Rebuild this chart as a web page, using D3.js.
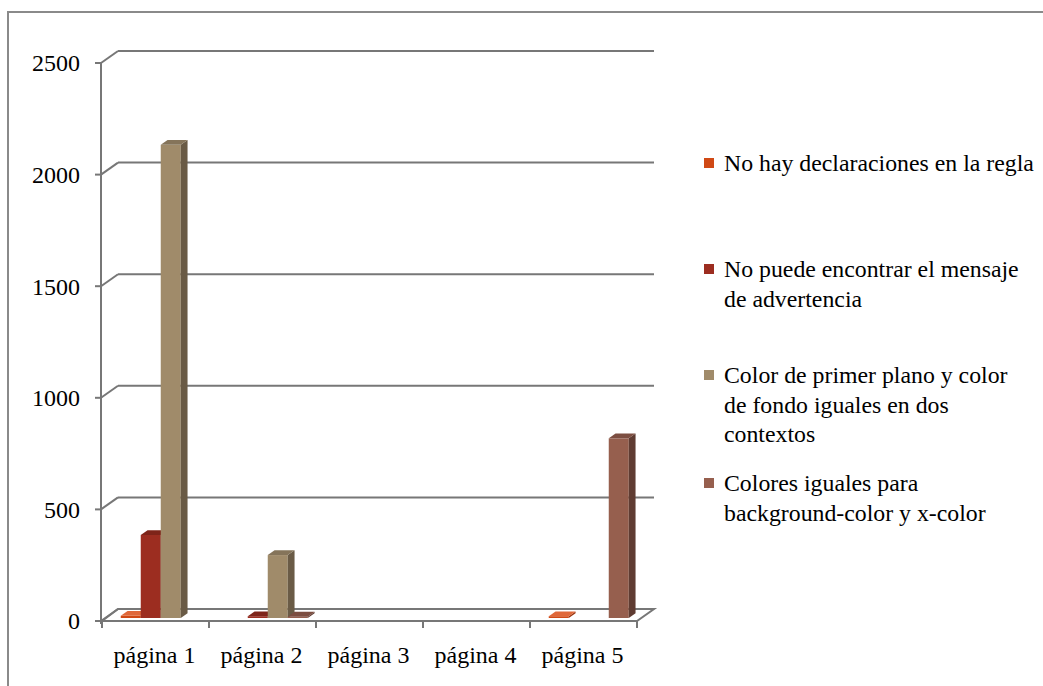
<!DOCTYPE html>
<html><head><meta charset="utf-8">
<script src="https://cdn.jsdelivr.net/npm/d3@7"></script>
<style>html,body{margin:0;padding:0;background:#fff;}svg{display:block;}</style>
</head><body>
<svg id="chart" width="1043" height="686"></svg>
<script>
const categories = ["página 1", "página 2", "página 3", "página 4", "página 5"];
const seriesNames = [
  "No hay declaraciones en la regla",
  "No puede encontrar el mensaje de advertencia",
  "Color de primer plano y color de fondo iguales en dos contextos",
  "Colores iguales para background-color y x-color"
];
const legendLines = [
  ["No hay declaraciones en la regla"],
  ["No puede encontrar el mensaje", "de advertencia"],
  ["Color de primer plano y color", "de fondo iguales en dos", "contextos"],
  ["Colores iguales para", "background-color y x-color"]
];
const s1 = [10, null, null, null, 8];
const s2 = [372, 8, null, null, null];
const s3 = [2120, 282, null, null, null];
const s4 = [null, 6, null, null, 805];
const seriesValues = [s1, s2, s3, s4];
const yTicks = [0, 500, 1000, 1500, 2000, 2500];
const colors = [
  {front:"#D04915", top:"#E0683A", side:"#9A3510"},
  {front:"#9C2D20", top:"#7E2419", side:"#6E1F16"},
  {front:"#A08B6A", top:"#85745A", side:"#6A5B46"},
  {front:"#965F4E", top:"#7C4E41", side:"#5F3C32"}
];

const svg = d3.select("#chart");
const FONT = "Liberation Serif, Tinos, Times New Roman, DejaVu Serif, serif";
const GRID = "#777777";
const DX = 17, DY = -12;
const BF = 0.25, BB = 0.65;

svg.append("path").attr("d","M8,686 L8,12 L1043,12").attr("fill","none")
  .attr("stroke","#8a8a8a").attr("stroke-width",2);

const y = d3.scaleLinear().domain([0,2500]).range([621,63]);
const x = d3.scaleBand().domain(categories).range([102,637]).padding(0);
const bw = x.bandwidth();
const barW = 20;
const inner = d3.scaleBand().domain(d3.range(seriesNames.length))
  .range([(bw - barW*4)/2, (bw + barW*4)/2]).padding(0);

const y0 = y(0);
svg.append("path")
  .attr("d",`M${x.range()[0]},${y0} L${x.range()[1]},${y0} L${x.range()[1]+DX},${y0+DY} L${x.range()[0]+DX-1},${y0+DY} Z`)
  .attr("fill","#fff").attr("stroke",GRID).attr("stroke-width",2);

const g = svg.append("g");
yTicks.forEach(t => {
  const yy = y(t);
  if (t > 0) {
    g.append("line").attr("x1",101+DX).attr("x2",x.range()[1]+DX).attr("y1",yy+DY).attr("y2",yy+DY)
      .attr("stroke",GRID).attr("stroke-width",2);
  }
  g.append("line").attr("x1",101).attr("x2",101+DX).attr("y1",yy).attr("y2",yy+DY)
    .attr("stroke",GRID).attr("stroke-width",2);
  g.append("line").attr("x1",95).attr("x2",101).attr("y1",yy).attr("y2",yy)
    .attr("stroke",GRID).attr("stroke-width",2);
  g.append("text").attr("x",80).attr("y",yy).attr("dy","0.35em").attr("text-anchor","end")
    .attr("font-family",FONT).attr("font-size",24).attr("fill","#000").text(t);
});
g.append("line").attr("x1",101).attr("x2",101).attr("y1",y(2500)).attr("y2",y(0)+3)
  .attr("stroke",GRID).attr("stroke-width",2);
g.append("line").attr("x1",101).attr("x2",x.range()[1]).attr("y1",y0).attr("y2",y0)
  .attr("stroke",GRID).attr("stroke-width",2);
const bounds = categories.map(c => x(c)).concat([x.range()[1]]);
bounds.forEach(b => {
  g.append("line").attr("x1",b).attr("x2",b).attr("y1",y0).attr("y2",y0+7)
    .attr("stroke",GRID).attr("stroke-width",2);
});
categories.forEach(c => {
  g.append("text").attr("x",x(c)+bw/2-1).attr("y",663).attr("text-anchor","middle")
    .attr("font-family",FONT).attr("font-size",24).attr("fill","#000").text(c);
});

const bars = svg.append("g");
const fx = DX*BF, fy = DY*BF, dx = DX*(BB-BF), dy = DY*(BB-BF);
categories.forEach((c, ci) => {
  seriesValues.forEach((vals, si) => {
    const v = vals[ci];
    if (v === null) return;
    const x0 = x(c) + inner(si) + fx + 1;
    const yt = y(v) + fy, yb = y(0) + fy;
    const col = colors[si];
    bars.append("rect").attr("x",x0).attr("y",yt).attr("width",barW).attr("height",Math.max(0.5,yb-yt))
      .attr("fill",col.front);
    bars.append("path").attr("d",`M${x0+barW},${yt} L${x0+barW+dx},${yt+dy} L${x0+barW+dx},${yb+dy} L${x0+barW},${yb} Z`)
      .attr("fill",col.side);
    bars.append("path").attr("d",`M${x0},${yt} L${x0+barW},${yt} L${x0+barW+dx},${yt+dy} L${x0+dx},${yt+dy} Z`)
      .attr("fill",col.top);
  });
});

const legendY = [163, 269, 375, 483];
const lg = svg.append("g");
legendLines.forEach((lines, i) => {
  lg.append("rect").attr("x",704).attr("y",legendY[i]-5).attr("width",10).attr("height",10)
    .attr("fill",colors[i].front);
  lines.forEach((ln, j) => {
    lg.append("text").attr("x",724).attr("y",legendY[i] + j*29.5).attr("dy","0.35em")
      .attr("font-family",FONT).attr("font-size",23.8).attr("fill","#000").text(ln);
  });
});
</script>
</body></html>
